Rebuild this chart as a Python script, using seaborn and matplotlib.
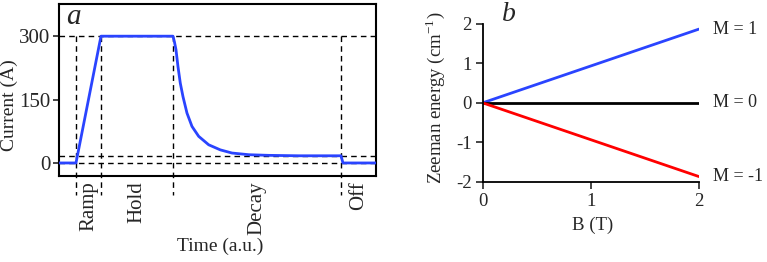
import numpy as np
import pandas as pd
import matplotlib
matplotlib.use("Agg")
import matplotlib.pyplot as plt
import seaborn as sns

# panel a: current pulse (time in arbitrary units)
pulse_time = [0, 17, 42, 114, 115.5, 117, 119, 121.3, 124, 128, 133, 139.7,
              149.7, 161.3, 173, 190, 210, 240, 282, 284, 317]
pulse_current = [0, 0, 300, 300, 286, 268, 228, 189, 157, 118, 86.5, 63,
                 43, 31, 23.5, 19.5, 18, 17, 17, 0, 0]
phase_bounds = [17, 42, 114, 282, 317]
phase_names = ["Ramp", "Hold", "Decay", "Off"]
ref_levels = [300, 17, 0]
current_ticks = [0, 150, 300]

# panel b: Zeeman levels
field = [0, 2]
levels = {"M = 1": [0, 1.87], "M = 0": [0, 0], "M = -1": [0, -1.87]}
level_colors = ["#2a44ff", "black", "#ff0000"]

sns.set_theme(style="white")
plt.rcParams["font.family"] = ["Liberation Serif", "DejaVu Serif"]
plt.rcParams["mathtext.fontset"] = "stix"
FS = 13

fig = plt.figure(figsize=(7.67, 2.62), dpi=100)
ax1 = fig.add_axes([0.0769, 0.328, 0.4133, 0.6565])
ax2 = fig.add_axes([0.6293, 0.3065, 0.282, 0.602])

# ---- panel a
df_a = pd.DataFrame({"t": pulse_time, "I": pulse_current})
sns.lineplot(data=df_a, x="t", y="I", ax=ax1, color="#2a44ff", lw=2,
             estimator=None, sort=False, zorder=3)
ax1.set_xlim(0, 317)
ax1.set_ylim(-31, 376)
for lev in ref_levels:
    ax1.axhline(lev, color="black", ls=(0, (4, 3)), lw=1, zorder=2)
for b in phase_bounds[:-1]:
    ax1.plot([b, b], [300, -75], color="black", ls=(0, (4, 3)), lw=1,
             clip_on=False, zorder=2)
for i, name in enumerate(phase_names):
    mid = (phase_bounds[i] + phase_bounds[i + 1]) / 2
    ax1.text(mid, -44, name, rotation=90, ha="center", va="top",
             fontsize=15, clip_on=False)
ax1.set_xticks([])
ax1.set_yticks(current_ticks)
ax1.tick_params(axis="y", direction="out", length=4, width=1.2, labelsize=15,
                left=True, pad=2)
for tk, lab in zip(ax1.yaxis.get_major_ticks(), current_ticks):
    if lab == 150:
        tk.tick1line.set_color("#2a44ff")
for s in ax1.spines.values():
    s.set_color("black")
    s.set_linewidth(1.5)
ax1.set_xlabel("Time (a.u.)", fontsize=14)
ax1.xaxis.set_label_coords(0.508, -0.36)
ax1.set_ylabel("Current (A)", fontsize=14)
ax1.yaxis.set_label_coords(-0.13, 0.41)
ax1.text(0.024, 0.925, "a", transform=ax1.transAxes, fontsize=21,
         style="italic", ha="left", va="center")

# ---- panel b
rows = []
for name, vals in levels.items():
    for x, y in zip(field, vals):
        rows.append({"B": x, "E": y, "M": name})
df_b = pd.DataFrame(rows)
sns.lineplot(data=df_b, x="B", y="E", hue="M", palette=level_colors, ax=ax2,
             lw=2, legend=False)
ax2.set_xlim(0, 2)
ax2.set_ylim(-2, 2)
ax2.set_xticks([0, 1, 2])
ax2.set_yticks([-2, -1, 0, 1, 2])
ax2.set_yticklabels(["-2", "-1", "0", "1", "2"])
ax2.tick_params(direction="out", length=5, width=1.2, labelsize=FS + 0.5,
                left=True, bottom=True, pad=3)
for side in ["top", "right"]:
    ax2.spines[side].set_visible(False)
for side in ["left", "bottom"]:
    ax2.spines[side].set_color("black")
    ax2.spines[side].set_linewidth(1.3)
for name, vals in levels.items():
    ax2.text(2.13, vals[-1], name, fontsize=FS, ha="left", va="center",
             clip_on=False)
ax2.set_xlabel("B (T)", fontsize=FS + 0.5)
ax2.xaxis.set_label_coords(0.51, -0.22)
ax2.set_ylabel(r"Zeeman energy (cm$^{\mathregular{-1}}$)", fontsize=FS + 0.5)
ax2.yaxis.set_label_coords(-0.165, 0.53)
ax2.text(0.088, 1.057, "b", transform=ax2.transAxes, fontsize=20,
         style="italic", ha="left", va="center")

fig.savefig("out.png", dpi=100)
